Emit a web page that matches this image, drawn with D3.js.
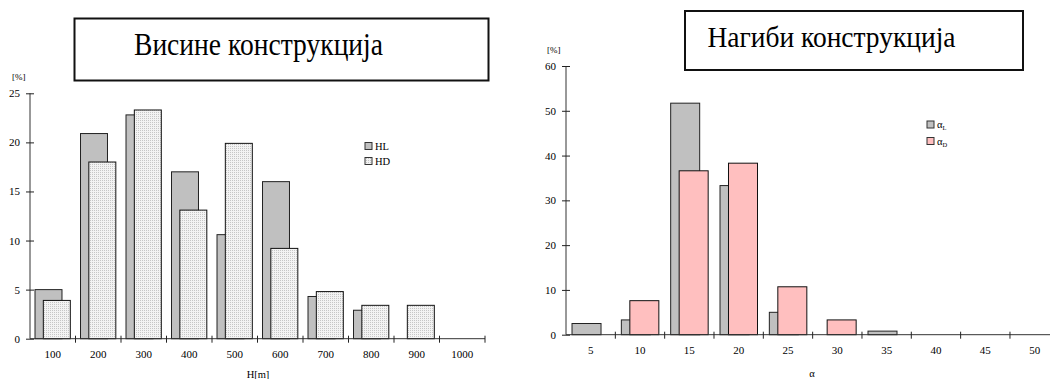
<!DOCTYPE html>
<html><head><meta charset="utf-8">
<script src="https://cdn.jsdelivr.net/npm/d3@7"></script>
<style>body{margin:0;background:#fff}svg{display:block}text{font-family:"Liberation Serif","Times New Roman",serif;fill:#000}</style>
</head><body>
<script>
// ---- data ----
const heightCats = ["100","200","300","400","500","600","700","800","900","1000"];
const heightHL = [5.0, 20.9, 22.8, 17.0, 10.6, 16.0, 4.3, 2.9, 0, 0];
const heightHD = [3.9, 18.0, 23.3, 13.1, 19.9, 9.2, 4.8, 3.4, 3.4, 0];
const heightTicks = [0, 5, 10, 15, 20, 25];

const slopeCats = ["5","10","15","20","25","30","35","40","45","50"];
const slopeL = [2.5, 3.3, 51.7, 33.3, 5.0, 0, 0.8, 0, 0, 0];
const slopeD = [0, 7.6, 36.6, 38.3, 10.7, 3.3, 0, 0, 0, 0];
const slopeTicks = [0, 10, 20, 30, 40, 50, 60];

const W = 1050, H = 379;
const svg = d3.select("body").append("svg").attr("width", W).attr("height", H);

const defs = svg.append("defs");
const pat = defs.append("pattern").attr("id","dots").attr("patternUnits","userSpaceOnUse")
  .attr("width",2).attr("height",2);
pat.append("rect").attr("width",2).attr("height",2).attr("fill","#f3f3f3");
pat.append("rect").attr("width",1).attr("height",1).attr("fill","#c6c6c6");

function chart(o){
  const g = svg.append("g");
  const x = d3.scaleBand().domain(o.cats).range([o.x0, o.x1]).padding(0);
  const y = d3.scaleLinear().domain([0, o.ymax]).range([o.y0, o.y1]);
  const bw = x.bandwidth();
  // bars
  const s1 = o.cats.map((c,i)=>({c, v:o.a[i]})).filter(d=>d.v>0);
  const s2 = o.cats.map((c,i)=>({c, v:o.b[i]})).filter(d=>d.v>0);
  g.selectAll(".a").data(s1).join("rect")
    .attr("x", d=>x(d.c)+bw*o.offA).attr("width", bw*o.wf)
    .attr("y", d=>y(d.v)).attr("height", d=>y(0)-y(d.v))
    .attr("fill", o.colA).attr("stroke","#222").attr("stroke-width",1);
  g.selectAll(".b").data(s2).join("rect")
    .attr("x", d=>x(d.c)+bw*o.offB).attr("width", bw*o.wf)
    .attr("y", d=>y(d.v)).attr("height", d=>y(0)-y(d.v))
    .attr("fill", o.colB).attr("stroke","#111").attr("stroke-width",1);
  // y axis
  const ya = g.append("g").attr("transform",`translate(${o.x0},0)`)
    .call(d3.axisLeft(y).tickValues(o.ticks).tickSize(4).tickPadding(6).tickFormat(d3.format("d")));
  ya.attr("font-family",null);
  ya.select(".domain").attr("stroke","#333").attr("d",`M0,${o.y0}V${o.y1}`);
  ya.selectAll(".tick line").attr("x1",4).attr("stroke","#222");
  ya.selectAll("text").attr("font-size",11);
  // x axis
  const xa = g.append("g").attr("transform",`translate(0,${o.y0})`)
    .call(d3.axisBottom(x).tickSize(0).tickPadding(12));
  xa.attr("font-family",null);
  xa.select(".domain").attr("stroke","#333").attr("d",`M${o.x0},0H${o.x1}`);
  xa.selectAll("text").attr("font-size",11);
  const bounds = o.cats.slice(1).map(c=>x(c)).concat([x(o.cats[o.cats.length-1])+bw]);
  xa.selectAll(".bt").data(bounds).join("line")
    .attr("x1",d=>d).attr("x2",d=>d).attr("y1",-3).attr("y2",4)
    .attr("stroke","#222");
  // unit label
  g.append("text").attr("x",o.unitX).attr("y",o.unitY).attr("font-size",9).text("[%]");
  g.append("text").attr("x",o.xlabX).attr("y",o.xlabY).attr("font-size",10.5).attr("text-anchor","middle").text(o.xlab);
  // title box
  g.append("rect").attr("x",o.box[0]).attr("y",o.box[1]).attr("width",o.box[2]).attr("height",o.box[3])
    .attr("fill","#fff").attr("stroke","#111").attr("stroke-width",2);
  g.append("text").attr("transform",`translate(${o.tx},${o.ty}) scale(1,${o.tsy})`).attr("font-size",o.tfs)
    .attr("textLength",o.tlen).attr("lengthAdjust","spacingAndGlyphs").text(o.title);
  // legend
  const lg = g.append("g");
  o.leg.forEach((l,i)=>{
    const yy = o.legY + i*o.legDy;
    lg.append("rect").attr("x",o.legX).attr("y",yy).attr("width",7).attr("height",7)
      .attr("fill", i===0?o.colA:o.colB).attr("stroke","#333").attr("stroke-width",1);
    const t = lg.append("text").attr("x",o.legX+10).attr("y",yy+7).attr("font-size",10.5);
    t.append("tspan").text(l[0]);
    if(l[1]) t.append("tspan").attr("font-size",6.5).attr("dy",2).text(l[1]);
  });
}

chart({cats:heightCats, a:heightHL, b:heightHD, ticks:heightTicks, ymax:25,
  x0:30, x1:485, y0:338.7, y1:93.3, offA:0.11, offB:0.293, wf:0.593,
  colA:"#c0c0c0", colB:"url(#dots)",
  unitX:12, unitY:80, xlab:"H[m]", xlabX:258, xlabY:378,
  box:[74.5,18.5,414,62], title:"Висине конструкција", tx:134, ty:54.5, tfs:27, tsy:1.2, tlen:249,
  leg:[["HL"],["HD"]], legX:365, legY:142.5, legDy:15});

chart({cats:slopeCats, a:slopeL, b:slopeD, ticks:slopeTicks, ymax:60,
  x0:566, x1:1059.3, y0:334.7, y1:66, offA:0.122, offB:0.294, wf:0.588,
  colA:"#c0c0c0", colB:"#ffbfbf",
  unitX:547, unitY:53, xlab:"α", xlabX:812, xlabY:377,
  box:[685,11,338,59], title:"Нагиби конструкција", tx:707.5, ty:46.7, tfs:27, tsy:1.1, tlen:248,
  leg:[["α","L"],["α","D"]], legX:927, legY:121, legDy:16.5});
</script>
</body></html>
